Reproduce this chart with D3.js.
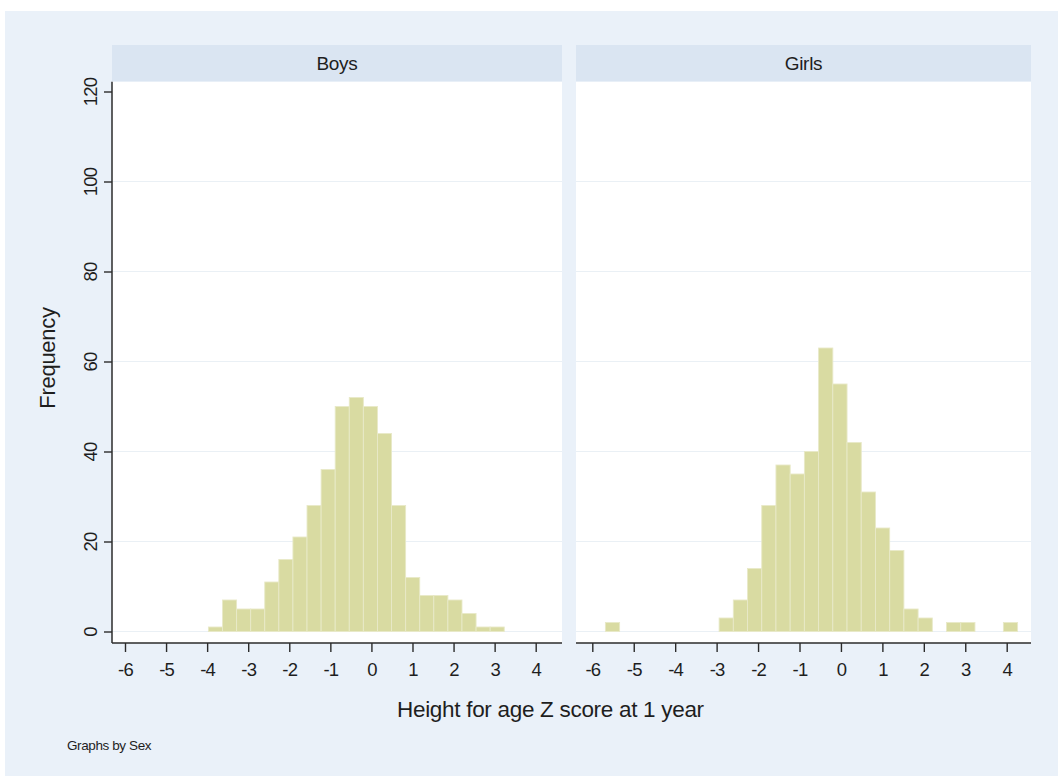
<!DOCTYPE html>
<html>
<head>
<meta charset="utf-8">
<script src="https://cdn.jsdelivr.net/npm/d3@7"></script>
<style>
  html, body { margin: 0; padding: 0; background: #ffffff; }
  svg { display: block; font-family: "Liberation Sans", Arial, sans-serif; }
</style>
</head>
<body>
<svg id="chart" width="1058" height="776"></svg>
<script>
// Histogram bins shared by both panels (Z score units)
const binStart = -5.684;
const binWidth = 0.343;

// Frequencies per bin, 29 bins from binStart
const boysFreq  = [0, 0, 0, 0, 0, 1, 7, 5, 5, 11, 16, 21, 28, 36, 50, 52, 50, 44, 28, 12, 8, 8, 7, 4, 1, 1, 0, 0, 0];
const girlsFreq = [2, 0, 0, 0, 0, 0, 0, 0, 3, 7, 14, 28, 37, 35, 40, 63, 55, 42, 31, 23, 18, 5, 3, 0, 2, 2, 0, 0, 2];

const panelNames = ["Boys", "Girls"];
const xTickValues = [-6, -5, -4, -3, -2, -1, 0, 1, 2, 3, 4];
const xTickLabels = ["-6", "-5", "-4", "-3", "-2", "-1", "0", "1", "2", "3", "4"];
const yTickValues = [0, 20, 40, 60, 80, 100, 120];
const yTickLabels = ["0", "20", "40", "60", "80", "100", "120"];
const gridValues = [0, 20, 40, 60, 80, 100];

const xTitle = "Height for age Z score at 1 year";
const yTitle = "Frequency";
const noteText = "Graphs by Sex";

const svg = d3.select("#chart");
const W = 1058, H = 776;

const colors = {
  graphBg: "#eaf1f9",
  strip: "#dae5f2",
  plotBg: "#ffffff",
  grid: "#eaf0f5",
  barFill: "#d9dba2",
  barStroke: "#e8e9c8",
  axis: "#2b2b2b",
  text: "#1e1e1e"
};

// Graph region
svg.append("rect")
  .attr("x", 5).attr("y", 11)
  .attr("width", W - 5).attr("height", H - 11)
  .attr("fill", colors.graphBg);

const plotTop = 81.7, plotBottom = 643;
const stripTop = 45;
const y = d3.scaleLinear().domain([0, 120]).range([631.5, 91.5]);

const panels = [
  { name: panelNames[0], data: boysFreq,  x0: 112, x1: 562,  range: [125, 535.7] },
  { name: panelNames[1], data: girlsFreq, x0: 576, x1: 1031, range: [592.3, 1006.7] }
];

panels.forEach((p, pi) => {
  const x = d3.scaleLinear().domain([-6, 4]).range(p.range);
  const g = svg.append("g");

  // strip header
  g.append("rect")
    .attr("x", p.x0).attr("y", stripTop)
    .attr("width", p.x1 - p.x0).attr("height", plotTop - stripTop)
    .attr("fill", colors.strip);
  g.append("text")
    .attr("x", (p.x0 + p.x1) / 2).attr("y", 69.5)
    .attr("text-anchor", "middle")
    .attr("font-size", 19)
    .attr("letter-spacing", -0.3)
    .attr("fill", colors.text)
    .text(p.name);

  // plot region
  g.append("rect")
    .attr("x", p.x0).attr("y", plotTop)
    .attr("width", p.x1 - p.x0).attr("height", plotBottom - plotTop)
    .attr("fill", colors.plotBg);

  // gridlines
  g.selectAll("line.grid").data(gridValues).join("line")
    .attr("class", "grid")
    .attr("x1", p.x0).attr("x2", p.x1)
    .attr("y1", d => y(d)).attr("y2", d => y(d))
    .attr("stroke", colors.grid).attr("stroke-width", 1.2);

  // bars
  const bins = p.data.map((v, i) => ({ lo: binStart + i * binWidth, hi: binStart + (i + 1) * binWidth, v }))
    .filter(d => d.v > 0);
  g.selectAll("rect.bar").data(bins).join("rect")
    .attr("class", "bar")
    .attr("x", d => x(d.lo))
    .attr("width", d => x(d.hi) - x(d.lo))
    .attr("y", d => y(d.v))
    .attr("height", d => y(0) - y(d.v))
    .attr("fill", colors.barFill)
    .attr("stroke", colors.barStroke)
    .attr("stroke-width", 0.9);

  // x axis
  const xAxis = d3.axisBottom(x)
    .tickValues(xTickValues)
    .tickSize(9)
    .tickPadding(11)
    .tickFormat((d, i) => xTickLabels[i]);
  const ax = g.append("g").attr("transform", `translate(0,${plotBottom})`).call(xAxis);
  ax.select(".domain").remove();
  ax.selectAll(".tick line").attr("stroke", colors.axis).attr("stroke-width", 1.4);
  ax.selectAll(".tick text")
    .attr("font-size", 18.5).attr("fill", colors.text)
    .attr("font-family", "Liberation Sans, Arial, sans-serif")
    .attr("letter-spacing", -0.8)
    .attr("dy", "0.71em");
  g.append("line")
    .attr("x1", p.x0).attr("x2", p.x1)
    .attr("y1", plotBottom).attr("y2", plotBottom)
    .attr("stroke", colors.axis).attr("stroke-width", 1.5);

  // y axis on the first panel only
  if (pi === 0) {
    const yAxis = d3.axisLeft(y)
      .tickValues(yTickValues)
      .tickSize(8)
      .tickFormat((d, i) => yTickLabels[i]);
    const ay = g.append("g").attr("transform", `translate(${p.x0},0)`).call(yAxis);
    ay.select(".domain").remove();
    ay.selectAll(".tick line").attr("stroke", colors.axis).attr("stroke-width", 1.4);
    ay.selectAll(".tick text")
      .attr("font-size", 18.5).attr("fill", colors.text)
      .attr("font-family", "Liberation Sans, Arial, sans-serif")
      .attr("letter-spacing", -0.8)
      .attr("text-anchor", "middle")
      .attr("x", null).attr("dy", null)
      .attr("transform", "translate(-15,0) rotate(-90)");
    g.append("line")
      .attr("x1", p.x0).attr("x2", p.x0)
      .attr("y1", plotTop).attr("y2", plotBottom)
      .attr("stroke", colors.axis).attr("stroke-width", 1.5);
  }
});

// axis titles
svg.append("text")
  .attr("x", 397).attr("y", 716.5)
  .attr("font-size", 22.5).attr("fill", colors.text)
  .attr("letter-spacing", -0.3)
  .text(xTitle);

svg.append("text")
  .attr("transform", "translate(55,358) rotate(-90)")
  .attr("text-anchor", "middle")
  .attr("font-size", 22).attr("fill", colors.text)
  .attr("letter-spacing", -0.3)
  .text(yTitle);

svg.append("text")
  .attr("x", 67).attr("y", 750)
  .attr("font-size", 13.5).attr("fill", colors.text)
  .attr("letter-spacing", -0.4)
  .text(noteText);
</script>
</body>
</html>
